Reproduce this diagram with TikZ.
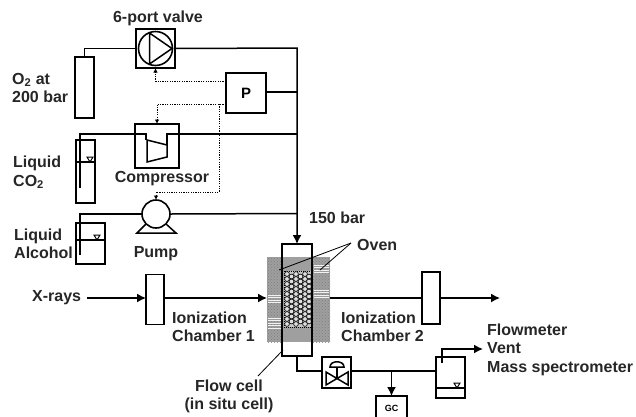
\documentclass[tikz,border=0pt]{standalone}
\usepackage{fontspec}
\setmainfont{Liberation Sans}
\usetikzlibrary{arrows.meta,patterns}

\tikzstyle{edge}=[black, line width=1.5pt, draw]
\tikzstyle{arr}=[black, line width=1.5pt, draw, -{Latex[length=9pt,width=9pt]}]
\tikzstyle{dotarr}=[black, line width=1pt, dash pattern=on 1.2pt off 1.2pt, draw, -{Latex[length=4.5pt,width=4.5pt]}]
\tikzstyle{box}=[black, line width=1.6pt, draw, inner sep=0pt, outer sep=0pt]
\tikzstyle{txt}=[font=\fontsize{16}{18.5}\selectfont\bfseries, inner sep=0pt, align=left, text=black!85]

\begin{document}
\begin{tikzpicture}[x=1pt,y=-1pt]
  \useasboundingbox (0,0) rectangle (636,416);

  % oven with the packed bed in the middle
  \fill [gray!75] (267,257) rectangle (330,342);
  \fill [pattern=crosshatch dots, pattern color=black!50] (267,257) rectangle (283,342);
  \fill [pattern=crosshatch dots, pattern color=black!50] (313,257) rectangle (330,342);
  \foreach \yy in {295,297.6,...,304,318,320.6,...,329} \draw [white!90!gray, line width=0.7pt] (268,\yy) -- (282,\yy);
  \foreach \yy in {265,267.6,...,273,290,292.6,...,300} \draw [white!90!gray, line width=0.7pt] (314,\yy) -- (329,\yy);
  \fill [gray!45] (284,271) rectangle (312,327);
  \draw [black, densely dotted, line width=1pt] (284,271) rectangle (312,327);
  \foreach \cx in {287,296,305} {
    \foreach \cy in {274,279,...,325} \draw [black, fill=gray!25, line width=0.6pt] (\cx,\cy) circle (2.4);
  }
  \foreach \cx in {291.5,300.5,309} {
    \foreach \cy in {276.5,281.5,...,325} \draw [black, fill=gray!25, line width=0.6pt] (\cx,\cy) circle (2.4);
  }

  % boxes
  \node [box, minimum width=39, minimum height=39] (valve) at (155.5,48.5) {};
  \node [box, circle, minimum size=34] (valvehead) at (155.5,48.5) {};
  \node [box, minimum width=19, minimum height=61] (o2tank) at (84.5,87.5) {};
  \node [box, minimum width=40, minimum height=40] (ctrl) at (246,93) {\fontsize{15}{18}\selectfont\bfseries P};
  \node [box, minimum width=44, minimum height=44] (compbox) at (157,146) {};
  \node [box, minimum width=19, minimum height=63] (co2tank) at (85.5,171.5) {};
  \node [box, circle, fill=white, minimum size=28] (pumphead) at (156,214) {};
  \node [box, minimum width=29, minimum height=41] (alctank) at (90.5,243.5) {};
  \node [box, minimum width=30, minimum height=112] (cell) at (297,300) {};
  \node [box, minimum width=18, minimum height=50] (chamber1) at (155,299.5) {};
  \node [box, minimum width=18, minimum height=52] (chamber2) at (431,298) {};
  \node [box, minimum width=29, minimum height=31] (flowvalve) at (336.5,372.5) {};
  \node [box, minimum width=31, minimum height=25, font=\fontsize{9}{11}\selectfont\bfseries] (gc) at (391.5,408.5) {GC};
  \node [box, minimum width=29, minimum height=41] (drain) at (450.5,377.5) {};

  \coordinate (main) at (297,48);
  \coordinate (ctrlout) at (297,92);
  \coordinate (co2in) at (146,134);
  \coordinate (co2out) at (167,134);
  \coordinate (comptop) at (297,134);
  \coordinate (co2dip) at (80,188);
  \coordinate (alcdip) at (80,255);
  \coordinate (pumpout) at (297,213.5);
  \coordinate (xin) at (87,298);
  \coordinate (outend) at (500,298);
  \coordinate (bottom) at (297,371);
  \coordinate (gctap) at (391.5,371);
  \coordinate (draintop) at (442,349);
  \coordinate (draindip) at (442,363);
  \coordinate (ventend) at (483,349);
  \coordinate (sig1) at (226,81);
  \coordinate (sig2) at (226,104);
  \coordinate (sig3) at (219,104);
  \coordinate (sig4) at (219,192);

  % gas and liquid lines
  \draw [edge] (o2tank.north) |- (valve.west);
  \draw [arr] (valve.east) -- (main) -- (cell.north);
  \draw [edge] (ctrl.east |- ctrlout) -- (ctrlout);
  \draw [edge] (co2dip) |- (co2in) -- (146,140);
  \draw [edge] (167,145) -- (co2out) -- (comptop);
  \draw [edge] (alcdip) |- (pumphead.west);
  \draw [edge] (pumphead.east) -- (pumpout);
  \draw [arr] (xin) -- (chamber1.west |- xin);
  \draw [arr] (chamber1.east |- xin) -- (267,298);
  \draw [edge] (330,298) -- (chamber2.west |- xin);
  \draw [arr] (chamber2.east |- xin) -- (outend);
  \draw [edge] (cell.south) -- (bottom) -- (flowvalve.west |- bottom);
  \draw [edge] (flowvalve.east |- bottom) -- (drain.west |- bottom);
  \draw [arr] (gctap) -- (gc.north);
  \draw [arr] (draindip) -- (draintop) -- (ventend);

  % signal lines
  \draw [dotarr] (sig1) -| (valve.south);
  \draw [dotarr] (sig2) -| (compbox.north);
  \draw [dotarr] (sig3) -- (sig4) -| (pumphead.north);

  % symbols
  \draw [edge] (149.5,33) -- (149.5,64) -- (172,48.5) -- cycle;
  \draw [edge] (147,140) -- (167,145) -- (167,157) -- (147,162) -- cycle;
  \draw [edge] (146,224) -- (137,233) -- (176,233) -- (166,224);
  \draw [edge] (76,162) -- (95,162);
  \draw [edge] (76,240) -- (105,240);
  \draw [edge] (436,388) -- (465,388);
  \foreach \mx/\my in {90/162,97/240,457/388} {
    \draw [black, line width=1pt, shift={(\mx,\my)}] (-3,-5) -- (3,-5) -- (0,0) -- cycle;
  }
  \draw [edge] (326,372) -- (348,385) -- (348,372) -- (326,385) -- cycle;
  \draw [edge] (337,378.5) -- (337,367);
  \draw [edge, fill=white] (330,367) .. controls (330,360) and (344,360) .. (344,367) -- cycle;

  % leaders
  \coordinate (ovenleader) at (351,243);
  \draw [black, line width=0.8pt] (ovenleader) -- (279,270);
  \draw [black, line width=0.8pt] (ovenleader) -- (320,270);
  \draw [black, line width=0.8pt] (283,350) -- (258,376);

  % labels
  \node [txt] (lblvalve) at (158,18) {6-port valve};
  \node [txt, anchor=west] (lblo2) at (12,88) {O$_{\mathbf 2}$ at\\200 bar};
  \node [txt, anchor=west] (lblco2) at (13,172.5) {Liquid\\CO$_{\mathbf 2}$};
  \node [txt] (lblcomp) at (162,179) {Compressor};
  \node [txt, anchor=west] (lblalc) at (14,244) {Liquid\\Alcohol};
  \node [txt] (lblpump) at (156,254) {Pump};
  \node [txt, anchor=west] (lblbar) at (309,218) {150 bar};
  \node [txt, anchor=west] (lbloven) at (357,245) {Oven};
  \node [txt, anchor=west] (lblx) at (32,298) {X-rays};
  \node [txt, anchor=west] (lblion1) at (172,327) {Ionization\\Chamber 1};
  \node [txt, anchor=west] (lblion2) at (341,327) {Ionization\\Chamber 2};
  \node [txt, align=center] (lblcell) at (229,396.5) {Flow cell\\(in situ cell)};
  \node [txt, anchor=west] (lblout) at (487,349.5) {Flowmeter\\Vent\\Mass spectrometer};
\end{tikzpicture}
\end{document}
